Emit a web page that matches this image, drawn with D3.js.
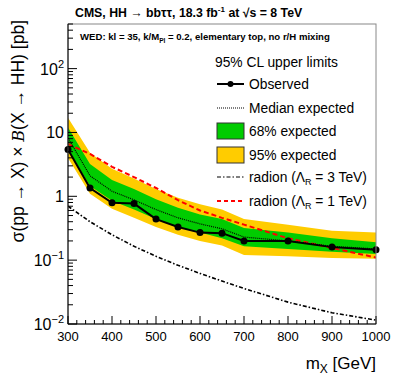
<!DOCTYPE html>
<html>
<head>
<meta charset="utf-8">
<script src="https://cdn.jsdelivr.net/npm/d3@7"></script>
<style>
  body { margin: 0; background: white; }
  svg { font-family: "Liberation Sans", Arial, Helvetica, sans-serif; }
</style>
</head>
<body>
<svg id="chart" width="399" height="383"></svg>
<script>
// masses (GeV) and limits (pb)
var masses   = [300, 350, 400, 450, 500, 550, 600, 650, 700, 800, 900, 1000];
var observed = [5.4, 1.35, 0.79, 0.77, 0.44, 0.33, 0.27, 0.265, 0.20, 0.20, 0.16, 0.145];
var expected = [8.2, 2.1, 1.2, 0.88, 0.62, 0.46, 0.37, 0.31, 0.23, 0.20, 0.165, 0.15];
var band68Lo = [5.6, 1.45, 0.85, 0.62, 0.44, 0.33, 0.27, 0.22, 0.165, 0.15, 0.135, 0.125];
var band68Hi = [12, 3.2, 1.8, 1.3, 0.9, 0.66, 0.52, 0.44, 0.32, 0.27, 0.22, 0.19];
var band95Lo = [4.0, 1.1, 0.64, 0.46, 0.33, 0.25, 0.2, 0.17, 0.12, 0.115, 0.108, 0.105];
var band95Hi = [17, 4.8, 2.7, 1.9, 1.3, 0.95, 0.75, 0.62, 0.44, 0.36, 0.29, 0.27];
var radion1  = [6.6, 4.6, 2.9, 2.0, 1.35, 0.87, 0.60, 0.46, 0.36, 0.22, 0.155, 0.11];
var radion3  = [0.70, 0.40, 0.25, 0.165, 0.115, 0.083, 0.062, 0.047, 0.036, 0.022, 0.015, 0.0115];

var xTicks = [300, 400, 500, 600, 700, 800, 900, 1000];
var yTicks = [0.01, 0.1, 1, 10, 100];
var yTickLabels = [["10", "\u22122"], ["10", "\u22121"], ["1", ""], ["10", ""], ["10", "2"]];

(function () {
    var svg = d3.select("#chart");
    var fL = 68, fR = 376, fT = 24, fB = 324;

    var x = d3.scaleLinear().domain([300, 1000]).range([fL, fR]);
    var y = d3.scaleLog().domain([0.01, 500]).range([fB, fT]);

    svg.append("clipPath").attr("id", "clip")
        .append("rect").attr("x", fL).attr("y", fT)
        .attr("width", fR - fL).attr("height", fB - fT);

    var plot = svg.append("g").attr("clip-path", "url(#clip)");

    function rows(lo, hi) {
        return masses.map(function (m, i) { return { m: m, lo: lo[i], hi: hi[i] } });
    }
    var area = d3.area()
        .x(function (d) { return x(d.m) })
        .y0(function (d) { return y(d.lo) })
        .y1(function (d) { return y(d.hi) });

    plot.append("path").datum(rows(band95Lo, band95Hi))
        .attr("d", area).style("fill", "#ffcc00");
    plot.append("path").datum(rows(band68Lo, band68Hi))
        .attr("d", area).style("fill", "#00cc00");

    function pts(vals) {
        return masses.map(function (m, i) { return { m: m, v: vals[i] } });
    }
    var line = d3.line()
        .x(function (d) { return x(d.m) })
        .y(function (d) { return y(d.v) });

    plot.append("path").datum(pts(radion3)).attr("d", line)
        .style("fill", "none").style("stroke", "black")
        .style("stroke-width", 1.6).style("stroke-dasharray", "4,2,1.5,2");
    plot.append("path").datum(pts(radion1)).attr("d", line)
        .style("fill", "none").style("stroke", "#ff0000")
        .style("stroke-width", 2).style("stroke-dasharray", "5,3");
    plot.append("path").datum(pts(expected)).attr("d", line)
        .style("fill", "none").style("stroke", "black")
        .style("stroke-width", 1.2).style("stroke-dasharray", "1,1");
    plot.append("path").datum(pts(observed)).attr("d", line)
        .style("fill", "none").style("stroke", "black").style("stroke-width", 2);

    svg.append("g").selectAll("circle").data(pts(observed)).enter().append("circle")
        .attr("cx", function (d) { return x(d.m) })
        .attr("cy", function (d) { return y(d.v) })
        .attr("r", 3.5).style("fill", "black");

    // frame
    svg.append("rect").attr("x", fL).attr("y", fT)
        .attr("width", fR - fL).attr("height", fB - fT)
        .style("fill", "none").style("stroke", "#888").style("stroke-width", 1);
    svg.append("line").attr("x1", fL).attr("x2", fL).attr("y1", fT).attr("y2", fB)
        .style("stroke", "black");
    svg.append("line").attr("x1", fL).attr("x2", fR).attr("y1", fB).attr("y2", fB)
        .style("stroke", "black");

    // x ticks (inward)
    var xMinor = d3.range(300, 1001, 20);
    svg.append("g").selectAll("line").data(xMinor).enter().append("line")
        .attr("x1", function (d) { return x(d) }).attr("x2", function (d) { return x(d) })
        .attr("y1", fB)
        .attr("y2", function (d) { return fB - (d % 100 === 0 ? 8 : 4) })
        .style("stroke", "black");
    svg.append("g").selectAll("text").data(xTicks).enter().append("text")
        .attr("x", function (d) { return x(d) }).attr("y", fB + 17)
        .attr("text-anchor", "middle").style("font-size", "13px")
        .text(function (d) { return d });

    // y ticks (inward)
    var yMinor = [];
    yTicks.forEach(function (dec) {
        for (var k = 1; k < 10; k++) {
            var v = dec * k;
            if (v <= 500) yMinor.push({ v: v, major: k === 1 });
        }
    });
    svg.append("g").selectAll("line").data(yMinor).enter().append("line")
        .attr("x1", fL)
        .attr("x2", function (d) { return fL + (d.major ? 9 : 5) })
        .attr("y1", function (d) { return y(d.v) }).attr("y2", function (d) { return y(d.v) })
        .style("stroke", "black");
    var yl = svg.append("g").selectAll("text").data(yTicks).enter().append("text")
        .attr("x", fL - 4)
        .attr("y", function (d) { return y(d) + 6 })
        .attr("text-anchor", "end").style("font-size", "16px");
    yl.each(function (d, i) {
        var t = d3.select(this);
        t.append("tspan").text(yTickLabels[i][0]);
        if (yTickLabels[i][1]) {
            t.append("tspan").attr("dy", -7).style("font-size", "11px").text(yTickLabels[i][1]);
        }
    });

    // axis titles
    var yt = svg.append("text")
        .attr("transform", "translate(24,20) rotate(-90)")
        .attr("text-anchor", "end").style("font-size", "17.5px");
    yt.append("tspan").text("\u03c3(pp \u2192 X) \u00d7 ");
    yt.append("tspan").style("font-style", "italic").style("font-family", "DejaVu Serif")
        .style("font-size", "16px").text("B");
    yt.append("tspan").text("(X \u2192 HH) [pb]");

    var xt = svg.append("text").attr("x", fR).attr("y", 369)
        .attr("text-anchor", "end").style("font-size", "17px");
    xt.append("tspan").text("m");
    xt.append("tspan").attr("dy", 4).style("font-size", "12px").text("X");
    xt.append("tspan").attr("dy", -4).text(" [GeV]");

    // header texts
    var title = svg.append("text").attr("x", 75).attr("y", 17)
        .style("font-size", "12.3px").style("font-weight", "bold");
    title.append("tspan").text("CMS, HH \u2192 bb\u03c4\u03c4, 18.3 fb");
    title.append("tspan").attr("dy", -5).style("font-size", "8px").text("-1");
    title.append("tspan").attr("dy", 5).text(" at \u221as = 8 TeV");

    var wed = svg.append("text").attr("x", 80).attr("y", 40)
        .style("font-size", "9.6px").style("font-weight", "bold");
    wed.append("tspan").text("WED: kl = 35, k/M");
    wed.append("tspan").attr("dy", 2.5).style("font-size", "6.5px").text("Pl");
    wed.append("tspan").attr("dy", -2.5).text(" = 0.2, elementary top, no r/H mixing");

    // legend
    var lg = svg.append("g").style("font-size", "13.8px");
    lg.append("text").attr("x", 215).attr("y", 67).text("95% CL upper limits");
    var lx0 = 217, lx1 = 244, tx = 249;

    lg.append("line").attr("x1", lx0).attr("x2", lx1).attr("y1", 84).attr("y2", 84)
        .style("stroke", "black").style("stroke-width", 2);
    lg.append("circle").attr("cx", (lx0 + lx1) / 2).attr("cy", 84).attr("r", 3);
    lg.append("text").attr("x", tx).attr("y", 89).text("Observed");

    lg.append("line").attr("x1", lx0).attr("x2", lx1).attr("y1", 108).attr("y2", 108)
        .style("stroke", "black").style("stroke-width", 1.2).style("stroke-dasharray", "1,1");
    lg.append("text").attr("x", tx).attr("y", 113).text("Median expected");

    lg.append("rect").attr("x", lx0).attr("y", 123).attr("width", lx1 - lx0).attr("height", 16)
        .style("fill", "#00cc00").style("stroke", "#333");
    lg.append("text").attr("x", tx).attr("y", 136).text("68% expected");

    lg.append("rect").attr("x", lx0).attr("y", 147).attr("width", lx1 - lx0).attr("height", 16)
        .style("fill", "#ffcc00").style("stroke", "#333");
    lg.append("text").attr("x", tx).attr("y", 160).text("95% expected");

    lg.append("line").attr("x1", lx0).attr("x2", lx1).attr("y1", 177).attr("y2", 177)
        .style("stroke", "black").style("stroke-width", 1.2).style("stroke-dasharray", "4,2,1.5,2");
    var r3 = lg.append("text").attr("x", tx).attr("y", 182);
    r3.append("tspan").text("radion (\u039b");
    r3.append("tspan").attr("dy", 3).style("font-size", "9px").text("R");
    r3.append("tspan").attr("dy", -3).text(" = 3 TeV)");

    lg.append("line").attr("x1", lx0).attr("x2", lx1).attr("y1", 201).attr("y2", 201)
        .style("stroke", "#ff0000").style("stroke-width", 2).style("stroke-dasharray", "4,3");
    var r1 = lg.append("text").attr("x", tx).attr("y", 206);
    r1.append("tspan").text("radion (\u039b");
    r1.append("tspan").attr("dy", 3).style("font-size", "9px").text("R");
    r1.append("tspan").attr("dy", -3).text(" = 1 TeV)");
})();
</script>
</body>
</html>
